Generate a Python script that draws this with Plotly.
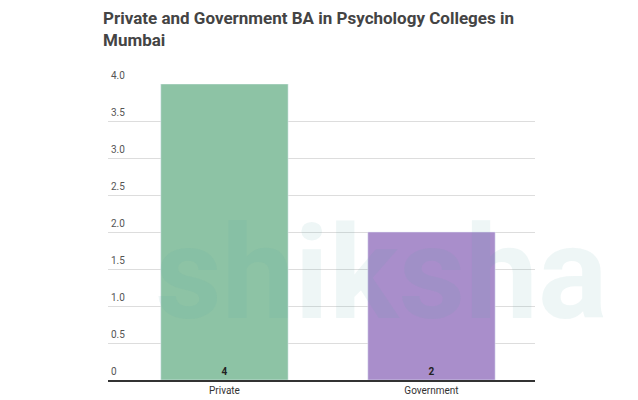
import plotly.graph_objects as go

categories = ["Private", "Government"]
values = [4, 2]
colors = ["#8dc3a5", "#a98ecb"]
tick_vals = [0, 0.5, 1, 1.5, 2, 2.5, 3, 3.5, 4]
tick_text = ["0", "0.5", "1.0", "1.5", "2.0", "2.5", "3.0", "3.5", "4.0"]

fig = go.Figure(
    go.Bar(
        x=categories,
        y=values,
        marker_color=colors,
        text=["<b>%d</b>" % v for v in values],
        textposition="inside",
        insidetextanchor="start",
        textfont=dict(size=10, color="#222222", family="Roboto"),
    )
)

# y tick labels sit above their gridlines, drawn as annotations so 4.0 is not clipped
for v, t in zip(tick_vals, tick_text):
    fig.add_annotation(
        text=t, xref="paper", yref="y", x=0, y=v, xanchor="left", yanchor="bottom",
        xshift=1, yshift=1, showarrow=False, font=dict(size=10, color="#555555", family="Roboto"),
    )

# faint watermark over the plot
fig.add_annotation(
    text="<b>shiksha</b>", xref="paper", yref="paper", x=0.64, y=0.36,
    showarrow=False, font=dict(size=130, color="rgba(90,170,170,0.10)", family="Roboto"),
)

fig.update_layout(
    width=638,
    height=400,
    paper_bgcolor="white",
    plot_bgcolor="rgba(0,0,0,0)",
    margin=dict(l=100, r=111, t=76, b=20),
    title=dict(
        text="<b>Private and Government BA in Psychology Colleges in<br>Mumbai</b>",
        x=95 / 638, xanchor="left", y=0.96, yanchor="top",
        font=dict(size=17, color="#444444", family="Roboto"),
    ),
    bargap=0.385,
    showlegend=False,
    font=dict(family="Roboto", size=10, color="#444444"),
)
fig.update_xaxes(
    range=[-0.5625, 1.5],
    showline=True, linecolor="#333333", linewidth=1.5,
    tickfont=dict(size=10, color="#333333"),
)
fig.update_yaxes(
    range=[0, 4], tickvals=tick_vals, showticklabels=False,
    gridcolor="#dddddd", zeroline=False,
)

fig.write_html("out.html")
